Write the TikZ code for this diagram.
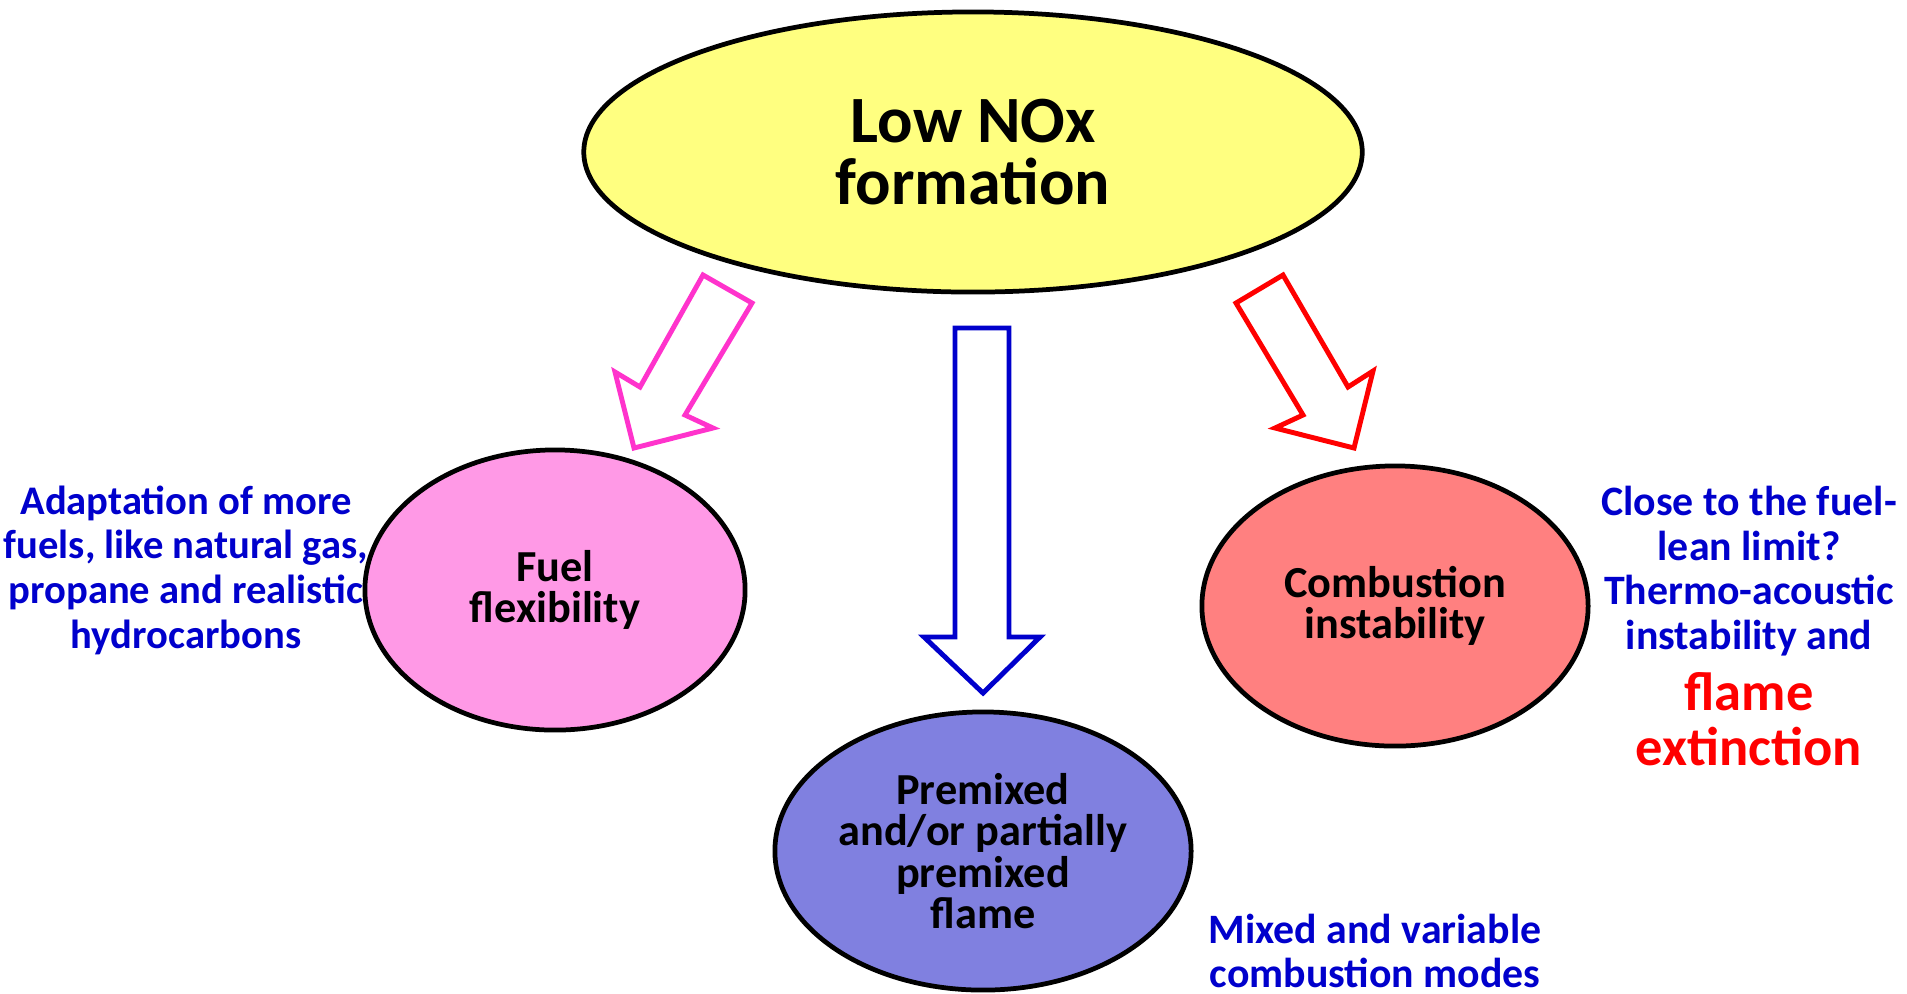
\documentclass[tikz,border=0pt]{standalone}
\usepackage{fontspec}
\setmainfont{Carlito}
\usetikzlibrary{shapes.geometric}
\definecolor{ylw}{HTML}{FFFF80}
\definecolor{pinkfill}{HTML}{FF99E6}
\definecolor{bluefill}{HTML}{8080E0}
\definecolor{redfill}{HTML}{FF8080}
\definecolor{pinkline}{HTML}{FF33CC}
\definecolor{blueline}{HTML}{0000CC}
\definecolor{redline}{HTML}{FF0000}
\tikzset{
  bubble/.style={ellipse, draw=black, line width=1.35pt, inner sep=0pt, align=center,
    font=\bfseries\fontsize{12.6}{11.8}\selectfont, text=black},
  bluetxt/.style={align=center, text=blueline, inner sep=0pt,
    font=\bfseries\fontsize{11.9}{12.7}\selectfont},
  redtxt/.style={align=center, text=redline, inner sep=0pt,
    font=\bfseries\fontsize{15.5}{15.6}\selectfont},
  blockarrow/.style={line width=1.4pt, fill=white, line join=miter}
}
\begin{document}
\begin{tikzpicture}[x=0.01cm,y=-0.01cm]
\useasboundingbox (0,0) rectangle (1907,993);
% main ellipse
\node[bubble, fill=ylw, minimum width=7.78cm, minimum height=2.8cm,
  font=\bfseries\fontsize{18.8}{17.4}\selectfont] (nox) at (973,152) {Low NOx\\formation};
% three outcome ellipses
\node[bubble, fill=pinkfill, minimum width=3.8cm, minimum height=2.8cm] (fuel) at (555,590) {Fuel\\flexibility};
\node[bubble, fill=bluefill, minimum width=4.16cm, minimum height=2.78cm] (prem) at (983,851) {Premixed\\and/or partially\\premixed\\flame};
\node[bubble, fill=redfill, minimum width=3.86cm, minimum height=2.8cm] (comb) at (1395,606) {Combustion\\instability};
% block arrows
\draw[blockarrow, draw=pinkline] (703,275) -- (752,303) -- (685,415) -- (713,428) -- (634,448) -- (615,372) -- (640,387) -- cycle;
\draw[blockarrow, draw=blueline] (955,328) -- (1009,328) -- (1009,637) -- (1040,637) -- (983,693) -- (924,637) -- (955,637) -- cycle;
\draw[blockarrow, draw=redline] (1283,275) -- (1236,303) -- (1303,415) -- (1275,428) -- (1354,448) -- (1373,371) -- (1348,387) -- cycle;
% side texts
\node[bluetxt, font=\bfseries\fontsize{11.55}{12.7}\selectfont] (adapt) at (186,570) {Adaptation of more\\fuels, like natural gas,\\propane and realistic\\hydrocarbons};
\node[bluetxt] (close) at (1749,571) {Close to the fuel-\\lean limit?\\Thermo-acoustic\\instability and};
\node[redtxt] (flame) at (1749,719) {flame\\extinction};
\node[bluetxt] (mixed) at (1375,951) {Mixed and variable\\combustion modes};
\end{tikzpicture}
\end{document}
